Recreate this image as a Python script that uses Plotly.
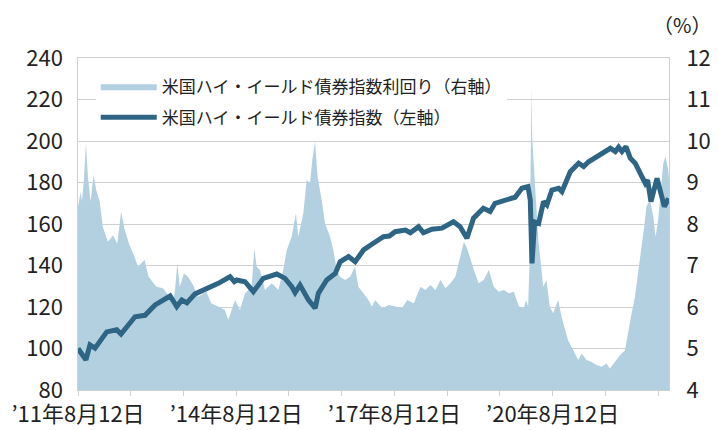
import plotly.graph_objects as go

# ---- data ----
idx_dates = ["2011-08-12","2011-10-06","2011-11-03","2011-12-08","2012-02-27","2012-05-06","2012-06-05",
             "2012-09-10","2012-11-18","2013-01-27","2013-05-11","2013-06-26","2013-07-31","2013-09-04",
             "2013-10-31","2014-02-01","2014-04-10","2014-06-30","2014-07-30","2014-08-16","2014-10-12",
             "2014-12-09","2015-02-16","2015-05-20","2015-07-16","2015-09-01","2015-09-24","2015-10-28",
             "2015-12-25","2016-02-10","2016-03-03","2016-04-30","2016-06-28","2016-08-01","2016-09-28",
             "2016-11-13","2017-01-10","2017-03-19","2017-05-28","2017-07-08","2017-08-17","2017-10-26",
             "2017-11-30","2018-01-26","2018-03-01","2018-04-28","2018-07-07","2018-09-25","2018-11-10",
             "2018-12-27","2019-02-11","2019-04-20","2019-06-06","2019-07-10","2019-09-18","2019-11-26",
             "2020-01-12","2020-02-23","2020-03-10","2020-03-22","2020-04-09","2020-05-07","2020-06-10",
             "2020-07-03","2020-08-07","2020-09-22","2020-10-15","2020-11-07","2020-12-12","2021-02-08",
             "2021-03-15","2021-04-18","2021-06-16","2021-07-20","2021-09-16","2021-10-20","2021-11-12",
             "2021-12-05","2022-01-02","2022-02-01","2022-03-07","2022-04-11","2022-05-16","2022-06-01",
             "2022-06-24","2022-08-05","2022-09-09","2022-09-25","2022-10-24"]
idx_values = [100.0,94.5,101.7,100.2,108.0,109.0,107.0,
              115.3,116.0,121.0,125.3,120.2,123.4,122.0,
              126.3,129.0,131.4,134.6,132.2,133.0,132.2,
              127.4,133.8,135.9,133.8,129.8,126.9,130.6,
              123.4,119.4,126.6,133.0,136.2,141.8,144.3,
              141.8,147.5,150.7,153.9,154.2,156.3,157.1,
              155.8,158.7,155.8,157.5,158.0,161.1,158.7,
              153.1,162.8,167.6,166.0,170.0,171.6,172.9,
              177.2,178.0,171.6,141.0,161.0,160.3,170.8,
              169.2,176.4,177.2,175.6,179.6,185.2,189.3,
              187.7,190.0,192.4,194.4,196.5,194.9,197.0,
              194.9,197.3,191.7,189.3,184.4,179.6,181.2,
              170.8,182.0,174.0,168.4,172.4]

yld_dates = ["2011-08-12","2011-08-31","2011-09-08","2011-09-22","2011-10-06","2011-10-20","2011-11-07",
             "2011-11-28","2011-12-16","2012-01-09","2012-01-31","2012-03-06","2012-04-10","2012-05-10",
             "2012-06-06","2012-06-30","2012-08-03","2012-09-07","2012-09-30","2012-11-03","2012-11-15",
             "2012-12-13","2013-02-05","2013-03-23","2013-04-27","2013-05-31","2013-06-16","2013-06-30",
             "2013-07-17","2013-08-15","2013-09-12","2013-10-17","2013-11-20","2014-01-17","2014-02-20",
             "2014-04-08","2014-05-25","2014-06-18","2014-08-04","2014-09-07","2014-10-12","2014-11-27",
             "2014-12-15","2015-01-01","2015-01-24","2015-02-27","2015-04-15","2015-05-31","2015-07-04",
             "2015-07-28","2015-08-31","2015-09-30","2015-10-16","2015-11-20","2015-12-13","2016-01-05",
             "2016-01-21","2016-02-09","2016-02-27","2016-03-26","2016-04-18","2016-05-23","2016-06-15",
             "2016-07-08","2016-07-31","2016-09-04","2016-10-09","2016-11-12","2016-12-05","2017-01-09",
             "2017-02-13","2017-03-09","2017-04-01","2017-05-19","2017-07-04","2017-08-19","2017-10-04",
             "2017-11-08","2017-12-24","2018-02-08","2018-03-15","2018-04-18","2018-05-23","2018-06-27",
             "2018-07-31","2018-09-04","2018-10-08","2018-11-05","2018-12-06","2018-12-29","2019-01-20",
             "2019-02-13","2019-03-19","2019-04-23","2019-05-28","2019-07-01","2019-08-05","2019-09-09",
             "2019-10-14","2019-11-17","2019-12-22","2020-01-25","2020-02-10","2020-02-24","2020-03-04",
             "2020-03-19","2020-03-23","2020-03-28","2020-04-14","2020-05-05","2020-05-27","2020-06-08",
             "2020-06-30","2020-07-23","2020-08-15","2020-09-19","2020-10-12","2020-11-05","2020-11-27",
             "2021-01-02","2021-02-05","2021-02-28","2021-04-04","2021-05-08","2021-06-12","2021-07-17",
             "2021-08-20","2021-09-13","2021-10-18","2021-11-21","2021-12-26","2022-01-18","2022-02-10",
             "2022-03-05","2022-03-28","2022-04-20","2022-05-08","2022-05-24","2022-06-17","2022-07-10",
             "2022-07-26","2022-08-13","2022-09-01","2022-09-17","2022-10-03","2022-10-22","2022-10-27"]
yld_values = [8.42,8.78,8.54,9.06,9.94,9.14,8.54,
              9.18,8.82,8.54,7.93,7.57,7.73,7.53,
              8.30,7.86,7.49,7.21,6.97,7.09,7.13,
              6.73,6.49,6.45,6.29,6.05,6.49,7.05,
              6.49,6.81,6.73,6.53,6.25,6.37,6.09,
              6.01,5.93,5.69,6.17,5.93,6.33,6.49,
              7.41,6.97,6.89,6.41,6.57,6.41,6.89,
              7.37,7.69,8.26,7.69,8.26,9.06,8.98,
              9.54,9.98,9.14,8.58,8.02,7.69,7.37,
              6.89,6.73,6.65,6.73,6.97,6.49,6.33,
              6.17,6.01,6.17,5.97,6.05,6.01,5.97,
              6.17,6.09,6.49,6.41,6.53,6.41,6.65,
              6.45,6.57,6.73,7.13,7.57,7.41,7.13,
              6.89,6.57,6.65,6.89,6.49,6.37,6.41,
              6.33,6.37,6.01,5.97,6.17,6.01,6.97,
              11.30,10.10,9.86,8.82,7.61,6.97,6.49,
              6.65,6.01,5.85,6.17,5.77,5.45,5.20,
              4.96,4.72,4.88,4.72,4.68,4.60,4.56,
              4.64,4.52,4.68,4.84,4.96,5.45,5.85,
              6.25,6.81,7.45,7.93,8.42,8.58,8.18,
              7.69,8.10,8.82,9.46,9.62,9.30,9.06]

tick_dates = ["2011-08-12","2012-08-12","2013-08-12","2014-08-12","2015-08-12","2016-08-12",
              "2017-08-12","2018-08-12","2019-08-12","2020-08-12","2021-08-12","2022-08-12"]
tick_labels = ["’11年8月12日","","","’14年8月12日","","","’17年8月12日","","","’20年8月12日","",""]

yield_name = "米国ハイ・イールド債券指数利回り（右軸）"
index_name = "米国ハイ・イールド債券指数（左軸）"

FONT = "Noto Sans CJK JP, Noto Sans, sans-serif"
AREA_COLOR = "#b3d0e1"
LINE_COLOR = "#2f6584"
GRID = "#d0d0d0"

fig = go.Figure()
fig.add_trace(go.Scatter(x=yld_dates, y=yld_values, name=yield_name, mode="lines",
                         line=dict(width=0, color=AREA_COLOR), fill="tozeroy",
                         fillcolor=AREA_COLOR, yaxis="y", legendgroup="a"))
fig.add_trace(go.Scatter(x=idx_dates, y=idx_values, name=index_name, mode="lines",
                         line=dict(width=5, color=LINE_COLOR), yaxis="y2", legendgroup="b"))

fig.update_layout(
    width=718, height=430,
    margin=dict(l=78, r=49, t=58, b=40),
    paper_bgcolor="white", plot_bgcolor="white",
    font=dict(family=FONT, color="#222222", size=20),
    showlegend=True,
    legend=dict(x=0.03, y=0.968, xanchor="left", yanchor="top",
                bgcolor="white", borderwidth=0, font=dict(size=17, family=FONT),
                itemwidth=56, traceorder="grouped", tracegroupgap=6),
    xaxis=dict(type="date", range=["2011-08-12", "2022-10-27"], automargin=False,
               tickmode="array", tickvals=tick_dates, ticktext=tick_labels,
               ticks="outside", ticklen=5, tickcolor=GRID,
               showline=True, linecolor=GRID, mirror=True, showgrid=False,
               tickfont=dict(size=22)),
    yaxis=dict(range=[4, 12], dtick=1, side="right", showgrid=True, gridcolor=GRID,
               showline=True, linecolor=GRID, mirror=True, zeroline=False, automargin=False,
               tickfont=dict(size=22), ticklabelstandoff=12),
    yaxis2=dict(range=[80, 240], dtick=20, side="left", overlaying="y", showgrid=False,
                automargin=False, zeroline=False, showline=False, tickfont=dict(size=22),
                ticklabelstandoff=14),
    annotations=[dict(text="（%）", xref="paper", yref="paper", x=1.022, y=1.0,
                      xanchor="center", yanchor="middle", yshift=34, showarrow=False,
                      font=dict(size=20, family=FONT))],
)

fig.write_html("out.html", config={"displayModeBar": False},
               post_script="document.body.style.margin='0';document.body.style.overflow='hidden';")
